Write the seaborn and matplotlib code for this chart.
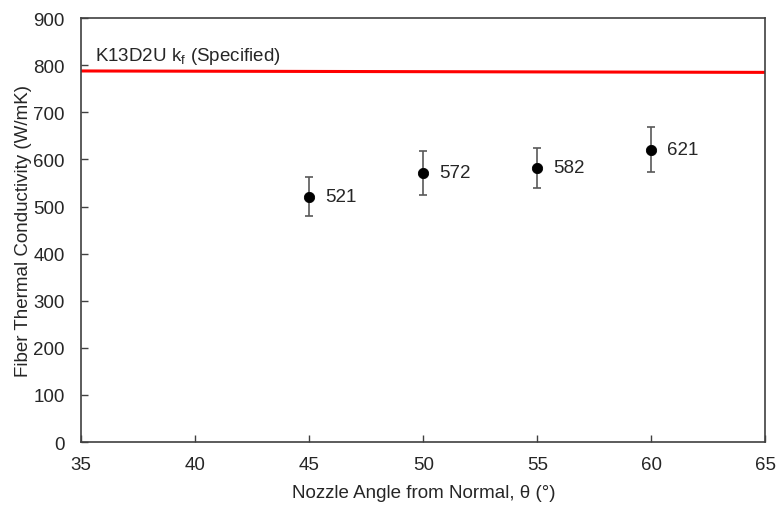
import matplotlib
matplotlib.use("Agg")
import numpy as np
import pandas as pd
import matplotlib.pyplot as plt
import seaborn as sns

# data
angles = [45, 50, 55, 60]
kf_values = [521, 572, 582, 621]
kf_errors = [42, 47, 43, 48]
spec_x = [35, 65]
spec_y = [788, 785]
spec_label = "K13D2U k$_\\mathregular{f}$ (Specified)"

df = pd.DataFrame({"angle": angles, "kf": kf_values, "err": kf_errors})
spec = pd.DataFrame({"angle": spec_x, "kf": spec_y})

sns.set_style("white")
plt.rcParams["font.family"] = ["Liberation Sans", "DejaVu Sans"]

fig = plt.figure(figsize=(7.81, 5.06), dpi=100)
ax = fig.add_axes([0.104, 0.1245, 0.876, 0.8375])

sns.lineplot(data=spec, x="angle", y="kf", color="#ff0000", linewidth=2.2, ax=ax)
ax.errorbar(df["angle"], df["kf"], yerr=df["err"], fmt="none",
            ecolor="#595959", elinewidth=1.2, capsize=3, capthick=1.2)
sns.scatterplot(data=df, x="angle", y="kf", color="black", s=55,
                edgecolor="black", zorder=3, ax=ax)

for a, v in zip(angles, kf_values):
    ax.text(a + 0.7, v, str(v), fontsize=13.5, va="center", ha="left")

ax.text(35.6, 820, spec_label, fontsize=13.5, va="center", ha="left")

ax.set_xlim(35, 65)
ax.set_ylim(0, 900)
ax.set_xticks(range(35, 66, 5))
ax.set_yticks(range(0, 901, 100))
ax.tick_params(direction="in", length=5, width=1, labelsize=13.5, color="#404040",
               bottom=True, left=True, pad=10)
ax.tick_params(axis="y", pad=12)
for s in ax.spines.values():
    s.set_color("#404040")
    s.set_linewidth(1.2)

ax.set_xlabel("Nozzle Angle from Normal, θ (°)", fontsize=13.5, color="#262626",
              labelpad=8)
ax.set_ylabel("Fiber Thermal Conductivity (W/mK)", fontsize=13.5, color="#262626",
              labelpad=1)

fig.savefig("out.png", dpi=100)
